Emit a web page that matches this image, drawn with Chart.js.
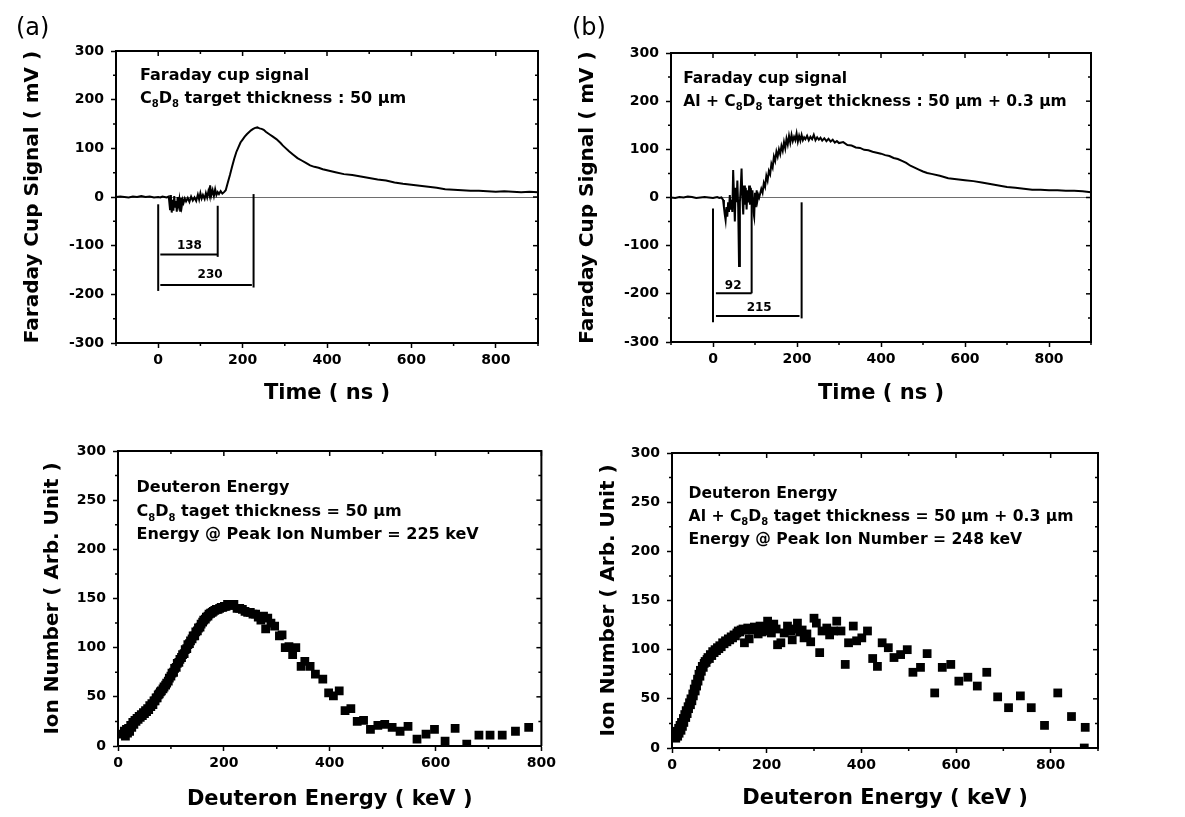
<!DOCTYPE html>
<html><head><meta charset="utf-8">
<script src="https://cdn.jsdelivr.net/npm/chart.js@4.4.1/dist/chart.umd.min.js"></script>
<style>
html,body{margin:0;padding:0;background:#fff;}
body{width:1185px;height:817px;position:relative;overflow:hidden;}
canvas{position:absolute;}
.lbl{position:absolute;font:24px "DejaVu Sans";color:#000;line-height:1;}
</style></head><body>
<canvas id="ca" width="560" height="415" style="left:0;top:0"></canvas>
<canvas id="cb" width="625" height="415" style="left:560px;top:0"></canvas>
<canvas id="cc" width="560" height="402" style="left:0;top:415px"></canvas>
<canvas id="cd" width="625" height="402" style="left:560px;top:415px"></canvas>
<div class="lbl" style="left:16px;top:15px">(a)</div>
<div class="lbl" style="left:572px;top:15px">(b)</div>
<script>
// ---------- data ----------
const timeA = [-100,-90,-80,-70,-60,-50,-40,-30,-20,-10,0,5,10,15,20,25,28,30,32,34,36,38,40,42,44,46,48,50,52,54,56,58,60,63,66,70,74,78,82,86,90,94,97,100,103,106,110,113,116,119,122,123,126,129,132,135,138,141,144,148,152,156,160,165,170,175,180,185,190,195,200,205,210,215,220,225,230,235,240,245,250,255,260,265,270,275,280,285,290,295,300,310,320,330,340,350,360,370,380,390,400,420,440,460,480,500,520,540,560,580,600,620,640,660,680,700,720,740,760,780,800,820,840,860,880,900];
const signalA = [0,1,0,-1,1,0,2,0,1,-1,0,-1,1,0,-1,1,-25,4,-32,-6,-28,2,-20,-8,-30,0,-15,-5,-28,-2,-18,-6,-12,-3,-9,-2,-10,1,-7,-1,-8,5,-5,8,-3,4,-4,8,-1,12,2,24,4,14,2,16,4,10,6,12,7,10,14,30,45,62,78,92,102,112,118,124,129,133,137,140,142,143,141,140,138,134,131,128,125,122,119,115,111,106,102,94,87,80,75,70,65,62,60,57,55,51,47,45,42,39,36,34,30,27,25,23,21,19,16,15,14,13,13,12,11,12,11,10,11,10];

const timeB = [
  -100,-90,-80,-70,-60,-50,-40,-30,-20,-10,0,5,10,15,20,
  24,26,28,30,32,34,36,38,40,42,44,46,48,50,52,54,56,58,60,62,64,66,68,70,72,74,76,78,80,82,84,86,88,90,92,94,96,98,100,102,104,106,108,110,
  115,118,121,124,127,130,133,136,139,142,145,148,151,154,157,160,163,166,169,172,175,178,181,184,187,190,193,196,199,202,205,208,211,214,217,220,
  224,228,232,236,240,244,248,252,256,260,
  265,270,275,280,285,290,295,300,
  310,320,330,340,350,360,370,380,390,400,410,420,430,440,450,460,470,480,490,500,510,520,
  540,560,580,600,620,640,660,680,700,720,740,760,780,800,820,840,860,880,900];
const signalB = [
  0,-1,1,0,2,1,-1,0,1,0,-1,0,1,-1,0,
  -5,-20,-35,-47,-20,-40,-10,-30,5,-25,-5,-30,57,5,-50,20,-10,35,-20,-142,-10,20,60,0,-35,25,-15,20,-25,15,-10,25,-15,20,-5,15,-30,-40,10,-20,15,-5,5,0,
  18,10,30,22,45,35,55,48,70,62,85,76,95,85,100,90,107,97,115,102,122,110,128,114,130,117,126,119,133,116,128,118,130,119,125,121,
  128,119,126,121,130,119,125,120,124,118,
  123,117,122,116,120,114,117,113,
  115,109,108,104,103,99,98,95,93,91,88,86,82,80,76,72,66,62,58,54,51,49,
  45,40,38,36,34,31,28,25,22,20,18,16,16,15,15,14,14,13,11];

const energyC = [10,12,14,16,18,20,22,24,26,28,30,32,34,36,38,40,42,44,46,48,50,52,54,56,58,60,62,64,66,68,70,72,74,76,78,80,82,85,87,90,92,95,97,100,102,105,107,110,112,115,117,120,122,125,127,130,132,135,137,140,142,145,147,150,152,155,157,160,162,165,167,170,172,175,178,180,183,186,189,192,195,198,201,204,207,210,213,216,219,225,230,235,240,245,250,255,260,265,270,275,279,283,289,296,305,310,316,323,330,336,346,353,363,373,387,398,407,418,429,440,452,464,477,491,504,518,533,548,565,582,598,618,637,659,682,703,726,751,776];
const ionC = [12,15,10,17,13,18,15,21,19,24,22,26,25,28,27,30,29,32,31,34,33,36,35,38,37,41,40,43,42,46,46,49,49,52,53,55,56,58,60,62,64,66,69,71,74,75,79,80,84,85,88,90,93,94,98,99,103,104,107,109,112,112,116,117,120,121,124,126,128,129,131,132,134,135,136,137,138,139,139,140,141,141,142,142,144,143,144,143,144,140,140,139,137,136,136,134,134,131,128,132,119,130,125,122,112,113,100,101,93,100,81,86,81,73,68,54,51,56,36,38,25,26,17,21,22,19,15,20,7,12,17,5,18,2,11,11,11,15,19];

const energyD = [5,7,8,10,12,14,15,17,19,20,22,24,25,27,29,30,32,34,35,37,39,40,42,44,45,47,49,50,52,54,55,57,59,60,62,64,66,68,70,72,74,76,79,81,84,86,89,91,94,96,99,101,104,107,110,113,116,119,122,125,128,131,134,137,140,143,146,150,153,156,160,163,166,170,174,178,182,186,190,194,198,202,206,210,215,220,223,230,237,244,251,254,258,265,270,275,279,285,293,300,305,312,317,327,333,341,348,357,366,373,383,390,401,413,424,434,444,457,469,483,497,509,525,539,555,571,589,606,625,645,665,688,711,736,759,787,815,844,873,871];
const ionD = [12,15,10,17,12,20,15,23,18,26,22,30,26,34,31,38,35,42,40,46,44,50,48,55,53,60,58,65,63,70,68,75,73,79,78,83,82,86,88,87,90,92,91,95,94,98,97,100,99,102,101,104,103,107,106,109,108,111,110,113,112,115,114,117,119,118,120,121,107,120,122,111,121,120,123,122,116,124,118,123,119,129,124,117,126,121,105,107,117,124,119,110,121,127,118,120,112,116,108,132,127,97,119,122,115,119,129,119,85,107,124,109,112,119,91,83,107,102,92,95,100,77,82,96,56,82,85,68,72,63,77,52,41,53,41,23,56,32,21,0];

// tick label values
const timeLabels = [0,200,400,600,800];
const signalLabels = [-300,-200,-100,0,100,200,300];
const energyLabels = [0,200,400,600,800];
const ionLabels = [0,50,100,150,200,250,300];

// annotation brackets (data units) and their numbers
const bracketsA = [[0,-15,0,-193],[141,-18,141,-123],[226,6,226,-186],[5,-118,141,-118],[5,-181,222,-181]];
const bracketTextA = [['138',74,-101],['230',123,-161]];
const bracketsB = [[0,-23,0,-259],[92,-5,92,-199],[211,-10,211,-251],[7,-199,92,-199],[7,-246,206,-246]];
const bracketTextB = [['92',48,-183],['215',110,-230]];

const FONT = '"DejaVu Sans", "Liberation Sans", Arial, sans-serif';

function drawRich(ctx, str, x, y, size){
  // '_' marks a single subscript character
  const segs = [];
  for (let i = 0; i < str.length; i++){
    let ch = str[i], sub = false;
    if (ch === '_'){ sub = true; ch = str[++i]; }
    if (segs.length && segs[segs.length-1].sub === sub) segs[segs.length-1].t += ch;
    else segs.push({t: ch, sub});
  }
  let cx = x;
  ctx.textBaseline = 'alphabetic';
  ctx.textAlign = 'left';
  const base = y + size*0.36;
  for (const s of segs){
    const fs = s.sub ? Math.round(size*0.62) : size;
    ctx.font = `bold ${fs}px ${FONT}`;
    ctx.fillText(s.t, cx, s.sub ? base + size*0.3 : base);
    cx += ctx.measureText(s.t).width;
  }
}

function framePlugin(o){
  return {
    id: 'frame',
    afterDatasetsDraw(chart){
      const {ctx, chartArea: a, scales: {x, y}} = chart;
      ctx.save();
      ctx.strokeStyle = '#000'; ctx.fillStyle = '#000'; ctx.lineWidth = 2;
      ctx.beginPath();
      ctx.moveTo(a.left, a.top); ctx.lineTo(a.right, a.top); ctx.lineTo(a.right, a.bottom);
      ctx.stroke();
      ctx.lineWidth = 1.5;
      x.ticks.forEach(t => {
        const px = x.getPixelForValue(t.value);
        const major = o.xLab.includes(t.value);
        ctx.beginPath();
        if (!major){ ctx.moveTo(px, a.bottom); ctx.lineTo(px, a.bottom + 3); }
        ctx.moveTo(px, a.top); ctx.lineTo(px, a.top + (major ? 5 : 3));
        ctx.stroke();
      });
      y.ticks.forEach(t => {
        const py = y.getPixelForValue(t.value);
        const major = o.yLab.includes(t.value);
        ctx.beginPath();
        if (!major){ ctx.moveTo(a.left, py); ctx.lineTo(a.left - 3, py); }
        ctx.moveTo(a.right, py); ctx.lineTo(a.right - (major ? 5 : 3), py);
        ctx.stroke();
      });
      ctx.lineWidth = 2;
      (o.lines || []).forEach(l => {
        ctx.beginPath();
        ctx.moveTo(x.getPixelForValue(l[0]), y.getPixelForValue(l[1]));
        ctx.lineTo(x.getPixelForValue(l[2]), y.getPixelForValue(l[3]));
        ctx.stroke();
      });
      (o.labels || []).forEach(l => {
        ctx.font = `bold 12px ${FONT}`;
        ctx.textAlign = 'center'; ctx.textBaseline = 'middle';
        ctx.fillText(l[0], x.getPixelForValue(l[1]), y.getPixelForValue(l[2]));
      });
      (o.texts || []).forEach(t => {
        drawRich(ctx, t[0], x.getPixelForValue(t[1]), y.getPixelForValue(t[2]), o.textSize);
      });
      ctx.restore();
    }
  };
}

function makeChart(id, c){
  const pts = c.xs.map((v, i) => ({x: v, y: c.ys[i]}));
  const tickFont = {family: FONT, size: 14, weight: 'bold'};
  const titleFont = {family: FONT, size: 21, weight: 'bold'};
  new Chart(document.getElementById(id), {
    type: 'scatter',
    data: {datasets: [{
      data: pts,
      showLine: c.line,
      borderColor: '#000',
      backgroundColor: '#000',
      borderWidth: c.line ? 2 : 0,
      pointStyle: 'rect',
      pointRadius: c.line ? 0 : 6.2,
      pointHoverRadius: c.line ? 0 : 6.2,
      pointBorderWidth: 0,
      tension: 0
    }]},
    options: {
      responsive: false, animation: false, devicePixelRatio: 1, events: [],
      layout: {padding: {top: c.padTop, right: c.padRight, left: 0, bottom: 0}},
      plugins: {legend: {display: false}, tooltip: {enabled: false}},
      scales: {
        x: {
          type: 'linear', min: c.xr[0], max: c.xr[1],
          afterFit(s){ s.height = c.xH; },
          ticks: {stepSize: c.xStep, autoSkip: false, maxRotation: 0, maxTicksLimit: 100, padding: 4, color: '#000', font: tickFont,
                  callback: v => c.xLab.includes(v) ? String(v) : ''},
          grid: {drawOnChartArea: false, tickLength: 5, tickWidth: 1.5,
                 tickColor: ctx => (ctx.tick && c.xLab.includes(ctx.tick.value)) ? '#000' : 'rgba(0,0,0,0)'},
          border: {display: true, color: '#000', width: 2},
          title: {display: true, text: c.xTitle, color: '#000', font: titleFont, padding: {top: 0, bottom: c.xTitlePad}}
        },
        y: {
          type: 'linear', min: c.yr[0], max: c.yr[1],
          afterFit(s){ s.width = c.yW; },
          ticks: {stepSize: c.yStep, autoSkip: false, maxTicksLimit: 100, padding: 7, color: '#000', font: tickFont,
                  callback: v => c.yLab.includes(v) ? String(v) : ''},
          grid: {drawOnChartArea: !!c.zero, tickLength: 5, tickWidth: 1.5, lineWidth: 1,
                 color: ctx => (c.zero && ctx.tick && ctx.tick.value === 0) ? '#6e6e6e' : 'rgba(0,0,0,0)',
                 tickColor: ctx => (ctx.tick && c.yLab.includes(ctx.tick.value)) ? '#000' : 'rgba(0,0,0,0)'},
          border: {display: true, color: '#000', width: 2},
          title: {display: true, text: c.yTitle, color: '#000', font: {family: FONT, size: 20, weight: 'bold'}, padding: {top: c.yTitlePad, bottom: 0}}
        }
      }
    },
    plugins: [framePlugin({xLab: c.xLab, yLab: c.yLab, lines: c.lines, labels: c.labels, texts: c.texts, textSize: c.textSize})]
  });
}

makeChart('ca', {
  xs: timeA, ys: signalA, line: true, zero: true,
  xr: [-100, 900], yr: [-300, 300], xStep: 100, yStep: 50, xLab: timeLabels, yLab: signalLabels,
  padTop: 51, padRight: 22, yW: 116, xH: 72, xTitlePad: 9, yTitlePad: 21, textSize: 16,
  xTitle: 'Time ( ns )', yTitle: 'Faraday Cup Signal ( mV )',
  lines: bracketsA, labels: bracketTextA,
  texts: [['Faraday cup signal', -43, 252], ['C_8D_8 target thickness : 50 μm', -43, 206]]
});
makeChart('cb', {
  xs: timeB, ys: signalB, line: true, zero: true,
  xr: [-100, 900], yr: [-300, 300], xStep: 100, yStep: 50, xLab: timeLabels, yLab: signalLabels,
  padTop: 53, padRight: 94, yW: 111, xH: 73, xTitlePad: 9, yTitlePad: 16, textSize: 15.5,
  xTitle: 'Time ( ns )', yTitle: 'Faraday Cup Signal ( mV )',
  lines: bracketsB, labels: bracketTextB,
  texts: [['Faraday cup signal', -71, 249], ['Al + C_8D_8 target thickness : 50 μm + 0.3 μm', -71, 202]]
});
makeChart('cc', {
  xs: energyC, ys: ionC, line: false, zero: false,
  xr: [0, 800], yr: [0, 300], xStep: 100, yStep: 25, xLab: energyLabels, yLab: ionLabels,
  padTop: 36, padRight: 17, yW: 118, xH: 71, xTitlePad: 5, yTitlePad: 41, textSize: 16,
  xTitle: 'Deuteron Energy ( keV )', yTitle: 'Ion Number ( Arb. Unit )',
  texts: [['Deuteron Energy', 35, 264], ['C_8D_8 taget thickness = 50 μm', 35, 240], ['Energy @ Peak Ion Number = 225 keV', 35, 216]]
});
makeChart('cd', {
  xs: energyD, ys: ionD, line: false, zero: false,
  xr: [0, 900], yr: [0, 300], xStep: 100, yStep: 25, xLab: energyLabels, yLab: ionLabels,
  padTop: 38, padRight: 87, yW: 112, xH: 69, xTitlePad: 6, yTitlePad: 37, textSize: 15.6,
  xTitle: 'Deuteron Energy ( keV )', yTitle: 'Ion Number ( Arb. Unit )',
  texts: [['Deuteron Energy', 35, 260], ['Al + C_8D_8 taget thickness = 50 μm + 0.3 μm', 35, 237], ['Energy @ Peak Ion Number = 248 keV', 35, 213]]
});
</script>
</body></html>
